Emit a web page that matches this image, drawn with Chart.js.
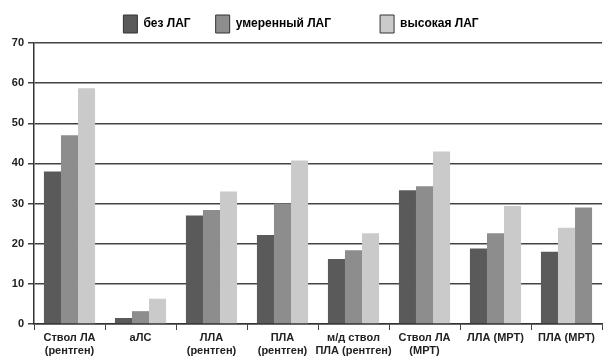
<!DOCTYPE html>
<html><head><meta charset="utf-8">
<script src="https://cdn.jsdelivr.net/npm/chart.js@4"></script>
<style>html,body{margin:0;padding:0;background:#fff}#w{width:605px;height:361px}</style>
</head><body><div id="w"><canvas id="c" width="605" height="361"></canvas></div>
<script>
const categories = [
  ["Ствол ЛА","(рентген)"], ["аЛС"], ["ЛЛА","(рентген)"], ["ПЛА","(рентген)"],
  ["м/д ствол","ПЛА (рентген)"], ["Ствол ЛА","(МРТ)"], ["ЛЛА (МРТ)"], ["ПЛА (МРТ)"]
];
const seriesNames = ["без ЛАГ", "умеренный ЛАГ", "высокая ЛАГ"];
const bezLAG = [38, 1.5, 27, 22.2, 16.2, 33.3, 18.8, 18];
const umerennyLAG = [47, 3.2, 28.4, 30, 18.4, 34.3, 22.6, 24];
const vysokayaLAG = [58.7, 6.3, 33, 40.7, 22.6, 43, 29.4, 29];
const yTicks = [0, 10, 20, 30, 40, 50, 60, 70];

const DARK = '#5a5a5a', MID = '#8d8d8d', LIGHT = '#cacaca';
const midColors = categories.map((c, i) => i === 7 ? LIGHT : MID);
const lightColors = categories.map((c, i) => i === 7 ? MID : LIGHT);
const legendGaps = ['\u2002\u2002', '\u2003\u2003\u2003', ''];

Chart.defaults.font.family = '"Liberation Sans", Arial, sans-serif';
Chart.defaults.font.weight = 'bold';
Chart.defaults.color = '#222';

new Chart(document.getElementById('c'), {
  type: 'bar',
  data: {
    labels: categories,
    datasets: [
      { label: seriesNames[0], data: bezLAG, backgroundColor: DARK },
      { label: seriesNames[1], data: umerennyLAG, backgroundColor: midColors },
      { label: seriesNames[2], data: vysokayaLAG, backgroundColor: lightColors }
    ]
  },
  options: {
    responsive: false,
    animation: false,
    layout: { padding: { left: 0, right: 3, top: 2, bottom: 0 } },
    datasets: { bar: { categoryPercentage: 0.72, barPercentage: 1.0 } },
    plugins: {
      tooltip: { enabled: false },
      legend: {
        position: 'top',
        labels: {
          boxWidth: 14, boxHeight: 18, padding: 13,
          font: { size: 12, weight: 'bold' }, color: '#222',
          generateLabels(chart) {
            const cols = [DARK, MID, LIGHT];
            return chart.data.datasets.map((d, i) => ({
              text: d.label + legendGaps[i],
              fillStyle: cols[i], strokeStyle: '#333', lineWidth: 1,
              datasetIndex: i, hidden: false
            }));
          }
        }
      }
    },
    scales: {
      x: {
        grid: { display: true, offset: true, drawOnChartArea: false, color: '#444', tickLength: 6, lineWidth: 1 },
        border: { display: true, color: '#333', width: 1.5 },
        ticks: { maxRotation: 0, autoSkip: false, font: { size: 11, weight: 'bold' }, color: '#222', padding: 1 },
        afterFit(s) { s.height = 37; }
      },
      y: {
        min: 0, max: 70,
        afterBuildTicks(s) { s.ticks = yTicks.map(v => ({ value: v })); },
        grid: { color: '#444', lineWidth: 1.5, tickLength: 6 },
        border: { display: true, color: '#333', width: 1.5 },
        ticks: { font: { size: 11, weight: 'bold' }, color: '#222', padding: 4 },
        afterFit(s) { s.width = 34; }
      }
    }
  }
});
</script></body></html>
